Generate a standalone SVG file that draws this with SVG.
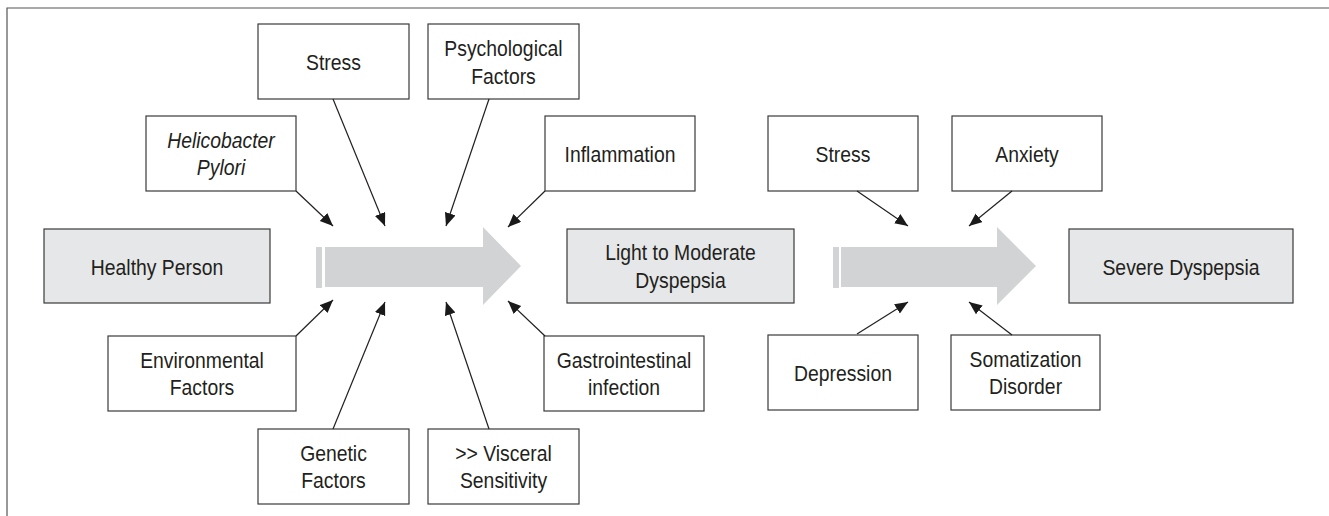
<svg xmlns="http://www.w3.org/2000/svg" width="1329" height="516" viewBox="0 0 1329 516">
<style>
.box{fill:#ffffff;stroke:#3a3a3a;stroke-width:1.2}
.main{fill:#e6e7e8;stroke:#3a3a3a;stroke-width:1.2}
.big{fill:#d1d3d4}
.t{font-family:"Liberation Sans",Arial,Helvetica,sans-serif;font-size:22px;fill:#231f20;text-anchor:middle}
.i{font-style:italic}
.c{stroke:#231f20;stroke-width:1.2;fill:none;marker-end:url(#ah)}
.frame{stroke:#555555;stroke-width:1.2;fill:none}
</style>
<defs>
<marker id="ah" markerUnits="userSpaceOnUse" markerWidth="14" markerHeight="12" refX="13" refY="5.5" orient="auto">
<path d="M0,0 L13,5.5 L0,11 z" fill="#1a1a1a"/>
</marker>
</defs>
<rect width="1329" height="516" fill="#ffffff"/>
<path class="frame" d="M7,516 L7,8 L1329,8"/>

<g id="arrow-left">
<rect class="big" x="316" y="247" width="6" height="41"/>
<polygon class="big" points="325,247 483,247 483,227 521,266 483,305 483,287 325,287"/>
</g>
<g id="arrow-right">
<rect class="big" x="833" y="247" width="6" height="41"/>
<polygon class="big" points="841,247 997,247 997,227 1036,266 997,305 997,287 841,287"/>
</g>

<g id="healthy-person">
<rect class="main" x="44" y="229" width="226" height="74"/>
<text class="t" transform="translate(157,0) scale(0.88,1)" x="0" y="275">Healthy Person</text>
</g>
<g id="light-moderate">
<rect class="main" x="567" y="229" width="227" height="74"/>
<text class="t" transform="translate(680.5,0) scale(0.88,1)" x="0" y="260">Light to Moderate</text>
<text class="t" transform="translate(680.5,0) scale(0.88,1)" x="0" y="288">Dyspepsia</text>
</g>
<g id="severe">
<rect class="main" x="1069" y="229" width="224" height="74"/>
<text class="t" transform="translate(1181,0) scale(0.88,1)" x="0" y="275">Severe Dyspepsia</text>
</g>

<g id="stress-1">
<rect class="box" x="258" y="24" width="151" height="75"/>
<text class="t" transform="translate(333.5,0) scale(0.88,1)" x="0" y="70.5">Stress</text>
</g>
<g id="psychological">
<rect class="box" x="428" y="24" width="151" height="75"/>
<text class="t" transform="translate(503.5,0) scale(0.88,1)" x="0" y="56.5">Psychological</text>
<text class="t" transform="translate(503.5,0) scale(0.88,1)" x="0" y="84">Factors</text>
</g>
<g id="helicobacter">
<rect class="box" x="146" y="116" width="150" height="75"/>
<text class="t i" transform="translate(221,0) scale(0.88,1)" x="0" y="148.5">Helicobacter</text>
<text class="t i" transform="translate(221,0) scale(0.88,1)" x="0" y="175.5">Pylori</text>
</g>
<g id="inflammation">
<rect class="box" x="545" y="116" width="150" height="75"/>
<text class="t" transform="translate(620,0) scale(0.88,1)" x="0" y="162.5">Inflammation</text>
</g>
<g id="stress-2">
<rect class="box" x="768" y="116" width="150" height="75"/>
<text class="t" transform="translate(843,0) scale(0.88,1)" x="0" y="162.5">Stress</text>
</g>
<g id="anxiety">
<rect class="box" x="952" y="116" width="150" height="75"/>
<text class="t" transform="translate(1027,0) scale(0.88,1)" x="0" y="162.5">Anxiety</text>
</g>
<g id="environmental">
<rect class="box" x="108" y="336" width="188" height="75"/>
<text class="t" transform="translate(202,0) scale(0.88,1)" x="0" y="368.5">Environmental</text>
<text class="t" transform="translate(202,0) scale(0.88,1)" x="0" y="395.5">Factors</text>
</g>
<g id="gastrointestinal">
<rect class="box" x="544" y="336" width="160" height="75"/>
<text class="t" transform="translate(624,0) scale(0.88,1)" x="0" y="368.5">Gastrointestinal</text>
<text class="t" transform="translate(624,0) scale(0.88,1)" x="0" y="395.5">infection</text>
</g>
<g id="genetic">
<rect class="box" x="258" y="429" width="151" height="75"/>
<text class="t" transform="translate(333.5,0) scale(0.88,1)" x="0" y="461.5">Genetic</text>
<text class="t" transform="translate(333.5,0) scale(0.88,1)" x="0" y="488.5">Factors</text>
</g>
<g id="visceral">
<rect class="box" x="428" y="429" width="151" height="75"/>
<text class="t" transform="translate(503.5,0) scale(0.88,1)" x="0" y="461.5">&gt;&gt; Visceral</text>
<text class="t" transform="translate(503.5,0) scale(0.88,1)" x="0" y="488.5">Sensitivity</text>
</g>
<g id="depression">
<rect class="box" x="768" y="335" width="150" height="75"/>
<text class="t" transform="translate(843,0) scale(0.88,1)" x="0" y="381">Depression</text>
</g>
<g id="somatization">
<rect class="box" x="951" y="335" width="149" height="75"/>
<text class="t" transform="translate(1025.5,0) scale(0.88,1)" x="0" y="367.5">Somatization</text>
<text class="t" transform="translate(1025.5,0) scale(0.88,1)" x="0" y="394.5">Disorder</text>
</g>

<g id="connectors">
<line class="c" x1="296" y1="191" x2="333" y2="226"/>
<line class="c" x1="333" y1="99" x2="385" y2="226"/>
<line class="c" x1="489" y1="99" x2="446" y2="226"/>
<line class="c" x1="545" y1="191" x2="508" y2="227"/>
<line class="c" x1="296" y1="336" x2="333" y2="300"/>
<line class="c" x1="333" y1="429" x2="385" y2="302"/>
<line class="c" x1="489" y1="429" x2="446" y2="302"/>
<line class="c" x1="545" y1="336" x2="508" y2="301"/>
<line class="c" x1="857" y1="191" x2="908" y2="226"/>
<line class="c" x1="1012" y1="191" x2="969" y2="226"/>
<line class="c" x1="857" y1="334" x2="908" y2="302"/>
<line class="c" x1="1012" y1="335" x2="969" y2="302"/>
</g>
</svg>
